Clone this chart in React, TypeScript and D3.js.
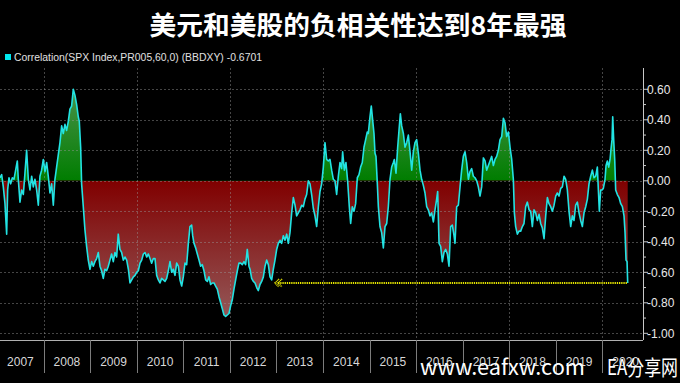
import React from 'react';
import * as d3 from 'd3';

// [decimal year, correlation]
const series: [number, number][] = [
  [2007.062,0.02],[2007.098,0.04],[2007.133,-0.04],[2007.169,-0.15],[2007.205,-0.35],[2007.226,-0.06],[2007.255,0.02],[2007.291,-0.02],[2007.327,0.02],[2007.362,0.01],
  [2007.398,0.07],[2007.434,0.13],[2007.455,0.01],[2007.491,-0.14],[2007.527,-0.06],[2007.563,-0.09],[2007.598,0.05],[2007.634,0.20],[2007.670,0.01],[2007.706,-0.06],
  [2007.742,0.03],[2007.777,-0.04],[2007.813,0.01],[2007.849,-0.06],[2007.885,-0.16],[2007.920,0.03],[2007.956,0.07],[2007.992,0.14],[2008.028,0.06],[2008.064,0.12],
  [2008.099,0.03],[2008.135,-0.08],[2008.171,-0.02],[2008.207,-0.16],[2008.242,0.01],[2008.278,0.09],[2008.314,0.17],[2008.350,0.25],[2008.386,0.36],[2008.421,0.31],
  [2008.457,0.37],[2008.493,0.33],[2008.529,0.39],[2008.564,0.47],[2008.600,0.49],[2008.636,0.60],[2008.672,0.56],[2008.708,0.50],[2008.743,0.42],[2008.765,0.39],
  [2008.794,0.22],[2008.815,-0.02],[2008.851,-0.17],[2008.886,-0.32],[2008.922,-0.43],[2008.958,-0.52],[2008.994,-0.58],[2009.030,-0.53],[2009.066,-0.56],[2009.101,-0.53],
  [2009.137,-0.51],[2009.173,-0.47],[2009.209,-0.56],[2009.244,-0.59],[2009.280,-0.64],[2009.316,-0.58],[2009.352,-0.59],[2009.388,-0.56],[2009.423,-0.52],[2009.459,-0.48],
  [2009.495,-0.53],[2009.531,-0.47],[2009.567,-0.50],[2009.602,-0.35],[2009.638,-0.45],[2009.674,-0.47],[2009.710,-0.52],
  [2009.747,-0.50],[2009.783,-0.52],[2009.819,-0.58],[2009.854,-0.67],[2009.890,-0.65],[2009.926,-0.63],[2009.962,-0.62],[2009.997,-0.60],[2010.033,-0.59],[2010.069,-0.54],
  [2010.105,-0.52],[2010.141,-0.48],[2010.176,-0.47],[2010.212,-0.50],[2010.248,-0.48],[2010.284,-0.51],[2010.319,-0.54],[2010.355,-0.51],[2010.391,-0.51],[2010.427,-0.62],
  [2010.463,-0.65],[2010.498,-0.67],[2010.534,-0.64],[2010.570,-0.65],[2010.606,-0.66],[2010.642,-0.64],[2010.677,-0.59],[2010.713,-0.53],[2010.749,-0.60],[2010.785,-0.58],
  [2010.820,-0.62],[2010.856,-0.54],[2010.892,-0.56],[2010.928,-0.65],[2010.964,-0.69],[2010.999,-0.63],[2011.035,-0.54],[2011.071,-0.55],[2011.107,-0.41],[2011.142,-0.30],
  [2011.178,-0.29],[2011.200,-0.36],[2011.228,-0.41],[2011.264,-0.44],[2011.300,-0.48],[2011.336,-0.52],[2011.371,-0.56],[2011.407,-0.55],[2011.443,-0.59],[2011.479,-0.65],
  [2011.515,-0.66],[2011.550,-0.63],[2011.586,-0.68],[2011.622,-0.67],[2011.658,-0.67],[2011.693,-0.69],[2011.729,-0.71],[2011.765,-0.76],[2011.801,-0.80],[2011.837,-0.84],
  [2011.872,-0.88],[2011.908,-0.89],[2011.944,-0.88],[2011.980,-0.87],[2012.015,-0.82],[2012.051,-0.78],[2012.087,-0.71],[2012.123,-0.65],[2012.159,-0.59],[2012.194,-0.54],
  [2012.230,-0.54],[2012.266,-0.55],[2012.302,-0.53],[2012.337,-0.55],[2012.373,-0.45],[2012.409,-0.56],
  [2012.432,-0.58],[2012.467,-0.64],[2012.503,-0.66],[2012.539,-0.67],[2012.575,-0.70],[2012.610,-0.72],[2012.646,-0.68],[2012.682,-0.66],[2012.718,-0.63],[2012.754,-0.56],
  [2012.789,-0.52],[2012.825,-0.55],[2012.861,-0.63],[2012.897,-0.65],[2012.932,-0.58],[2012.968,-0.52],[2013.004,-0.45],[2013.040,-0.41],[2013.076,-0.39],[2013.111,-0.41],
  [2013.147,-0.36],[2013.183,-0.39],[2013.219,-0.35],[2013.254,-0.41],[2013.290,-0.34],[2013.326,-0.21],[2013.362,-0.11],[2013.398,-0.16],[2013.433,-0.23],[2013.469,-0.21],
  [2013.505,-0.19],[2013.541,-0.16],[2013.576,-0.17],[2013.612,-0.12],[2013.648,-0.09],[2013.684,0.00],[2013.720,-0.02],[2013.755,-0.09],[2013.791,-0.18],[2013.827,-0.23],
  [2013.863,-0.30],[2013.899,-0.17],[2013.934,-0.07],[2013.970,-0.02],[2014.006,0.09],[2014.042,0.25],[2014.077,0.14],[2014.113,0.13],[2014.149,0.14],[2014.185,0.07],
  [2014.221,0.01],[2014.256,0.00],[2014.292,-0.09],[2014.328,0.03],[2014.364,0.12],[2014.399,0.08],[2014.421,0.19],[2014.457,0.07],[2014.492,0.12],[2014.528,0.00],
  [2014.564,-0.17],[2014.593,-0.28],[2014.628,-0.17],[2014.664,-0.20],[2014.700,-0.15],[2014.736,0.02],[2014.772,0.04],[2014.807,0.09],[2014.843,0.12],[2014.879,0.22],
  [2014.915,0.27],[2014.950,0.32],[2014.972,0.31],[2015.008,0.42],[2015.036,0.49],[2015.065,0.40],[2015.094,0.31],
  [2015.116,0.18],[2015.137,0.16],[2015.166,-0.02],[2015.188,-0.17],[2015.223,-0.30],[2015.259,-0.34],[2015.295,-0.44],[2015.331,-0.30],[2015.367,-0.28],[2015.402,-0.17],
  [2015.438,0.01],[2015.474,0.09],[2015.510,0.12],[2015.531,0.14],[2015.567,0.05],[2015.603,0.22],[2015.631,0.33],[2015.660,0.44],[2015.689,0.36],[2015.725,0.31],
  [2015.760,0.22],[2015.796,0.25],[2015.832,0.30],[2015.868,0.19],[2015.904,0.07],[2015.939,0.19],[2015.975,0.25],[2016.011,0.27],[2016.047,0.18],[2016.083,0.07],
  [2016.118,0.01],[2016.154,-0.03],[2016.190,-0.08],[2016.226,-0.17],[2016.261,-0.19],[2016.297,-0.23],[2016.333,-0.21],[2016.369,-0.27],[2016.405,-0.19],[2016.440,-0.12],
  [2016.462,-0.07],[2016.491,-0.41],[2016.526,-0.43],[2016.562,-0.53],[2016.598,-0.47],[2016.634,-0.45],[2016.670,-0.48],[2016.705,-0.56],[2016.741,-0.30],[2016.777,-0.29],
  [2016.813,-0.36],[2016.834,-0.41],[2016.870,-0.17],[2016.906,-0.16],[2016.942,-0.04],[2016.977,0.07],[2017.013,0.16],[2017.049,0.19],[2017.085,0.12],[2017.121,0.01],
  [2017.156,0.06],[2017.192,0.08],[2017.228,0.03],[2017.264,0.02],[2017.300,0.00],[2017.335,-0.04],[2017.371,-0.10],[2017.407,-0.04],[2017.443,0.15],[2017.479,0.13],
  [2017.514,0.07],[2017.550,0.10],[2017.586,0.13],[2017.622,0.16],[2017.658,0.10],[2017.693,0.14],[2017.729,0.16],[2017.765,0.20],
  [2017.801,0.27],[2017.837,0.29],[2017.873,0.41],[2017.908,0.38],[2017.944,0.29],[2017.980,0.32],[2018.016,0.22],[2018.052,0.14],[2018.087,0.01],[2018.109,-0.21],
  [2018.137,-0.30],[2018.173,-0.35],[2018.209,-0.33],[2018.245,-0.33],[2018.281,-0.30],[2018.316,-0.28],[2018.352,-0.17],[2018.388,-0.14],[2018.424,-0.19],[2018.460,-0.20],
  [2018.495,-0.30],[2018.531,-0.19],[2018.567,-0.21],[2018.603,-0.26],[2018.639,-0.22],[2018.674,-0.28],[2018.710,-0.31],[2018.746,-0.38],[2018.782,-0.23],[2018.818,-0.11],
  [2018.853,-0.15],[2018.889,-0.17],[2018.925,-0.20],[2018.961,-0.16],[2018.997,-0.10],[2019.032,-0.08],[2019.068,-0.10],[2019.104,-0.05],[2019.140,-0.04],[2019.176,0.03],
  [2019.211,0.01],[2019.247,-0.06],[2019.283,-0.20],[2019.319,-0.30],[2019.354,-0.23],[2019.390,-0.26],[2019.426,-0.16],[2019.462,-0.14],[2019.498,-0.21],[2019.533,-0.26],
  [2019.569,-0.30],[2019.605,-0.21],[2019.641,-0.17],[2019.677,-0.12],[2019.712,-0.02],[2019.748,0.03],[2019.784,0.07],[2019.820,0.02],[2019.856,0.03],[2019.891,0.09],
  [2019.913,-0.06],[2019.934,-0.20],[2019.963,-0.06],[2019.992,-0.06],[2020.020,-0.05],[2020.056,0.01],[2020.078,0.10],[2020.106,0.13],[2020.135,0.09],[2020.164,0.14],
  [2020.185,0.21],[2020.207,0.27],[2020.221,0.42],[2020.242,0.27],[2020.264,0.14],[2020.285,-0.06],[2020.321,-0.09],[2020.357,-0.11],[2020.393,-0.15],[2020.429,-0.17],
  [2020.464,-0.23],[2020.486,-0.34],[2020.507,-0.52],[2020.529,-0.53],[2020.543,-0.6701],
];

const yTicks = [0.6, 0.4, 0.2, 0, -0.2, -0.4, -0.6, -0.8, -1.0];
const yMinorTicks = [0.5, 0.3, 0.1, -0.1, -0.3, -0.5, -0.7, -0.9];
const yearLabels = [2007, 2008, 2009, 2010, 2011, 2012, 2013, 2014, 2015, 2016, 2017, 2018, 2019, 2020];
const yearTicks = [2008, 2009, 2010, 2011, 2012, 2013, 2014, 2015, 2016, 2017, 2018, 2019, 2020];
const gridYears = [2008, 2010, 2012, 2014, 2016, 2018, 2020];
const titleText = '美元和美股的负相关性达到8年最强';
const legendText = 'Correlation(SPX Index,PR005,60,0) (BBDXY) -0.6701';
const lastValue = -0.6701;
const annotationStart = 2012.947;
const watermarkUrl = 'www.eafxw.com';
const watermarkName = 'EA分享网';

const W = 680;
const H = 383;
const PLOT_LEFT = 0;
const PLOT_RIGHT = 643;
const PLOT_TOP = 68;
const PLOT_BOTTOM = 340;

export default function App() {
  const x = d3
    .scaleLinear()
    .domain([series[0][0], series[series.length - 1][0]])
    .range([PLOT_LEFT, 627.7]);
  const y = d3.scaleLinear().domain([-1, 0.6]).range([333.3, 89.3]);
  const y0 = y(0);

  const area = d3
    .area<[number, number]>()
    .x((d) => x(d[0]))
    .y0(y0)
    .y1((d) => y(d[1]));
  const line = d3
    .line<[number, number]>()
    .x((d) => x(d[0]))
    .y((d) => y(d[1]));

  const fmt = d3
    .formatLocale({ decimal: '.', thousands: ',', grouping: [3], currency: ['', ''], minus: '-' })
    .format('.2f');

  const axisFont = "'Liberation Sans', Arial, sans-serif";
  const cjkFont = "'Noto Sans CJK SC', 'Noto Sans', sans-serif";

  const ax0 = x(annotationStart);
  const ax1 = x(series[series.length - 1][0]);
  const ay = y(lastValue);

  return (
    <>
      <style>{`body{margin:0;background:#000;}`}</style>
      <svg width={W} height={H} style={{ display: 'block', background: '#000' }}>
        <defs>
          <linearGradient id="redGrad" gradientUnits="userSpaceOnUse" x1={0} x2={0} y1={y0} y2={y(-1)}>
            <stop offset="0%" stopColor="#800000" />
            <stop offset="100%" stopColor="#966262" />
          </linearGradient>
          <linearGradient id="greenGrad" gradientUnits="userSpaceOnUse" x1={0} x2={0} y1={y0} y2={y(0.6)}>
            <stop offset="0%" stopColor="#007d00" />
            <stop offset="100%" stopColor="#4a914a" />
          </linearGradient>
          <clipPath id="clipAbove">
            <rect x={PLOT_LEFT} y={PLOT_TOP} width={PLOT_RIGHT - PLOT_LEFT} height={y0 - PLOT_TOP} />
          </clipPath>
          <clipPath id="clipBelow">
            <rect x={PLOT_LEFT} y={y0} width={PLOT_RIGHT - PLOT_LEFT} height={PLOT_BOTTOM - y0} />
          </clipPath>
        </defs>
        <rect x={0} y={0} width={W} height={H} fill="#000" />

        {/* fills */}
        <path d={area(series) || ''} fill="url(#greenGrad)" clipPath="url(#clipAbove)" />
        <path d={area(series) || ''} fill="url(#redGrad)" clipPath="url(#clipBelow)" />

        {/* grid */}
        <g stroke="#9a9a9a" strokeOpacity={0.45} strokeWidth={1} strokeDasharray="2,2">
          {yTicks.map((t) => (
            <line key={'gy' + t} x1={PLOT_LEFT} x2={PLOT_RIGHT} y1={Math.round(y(t)) + 0.5} y2={Math.round(y(t)) + 0.5} />
          ))}
          {gridYears.map((yr) => (
            <line key={'gx' + yr} x1={Math.round(x(yr)) + 0.5} x2={Math.round(x(yr)) + 0.5} y1={PLOT_TOP} y2={PLOT_BOTTOM} />
          ))}
        </g>

        {/* series line */}
        <path d={line(series) || ''} fill="none" stroke="#22e3e3" strokeWidth={1.6} strokeLinejoin="round" />

        {/* annotation */}
        <line x1={ax0 + 4} x2={ax1} y1={ay} y2={ay} stroke="#e6e600" strokeWidth={2} strokeDasharray="1.3,0.9" />
        <path
          d={`M${ax0 + 5},${ay - 4} L${ax0 + 1},${ay} L${ax0 + 5},${ay + 4} M${ax0 + 8},${ay - 4} L${ax0 + 4},${ay} L${ax0 + 8},${ay + 4}`}
          fill="none"
          stroke="#e6e600"
          strokeWidth={1.5}
          strokeDasharray="1,0.6"
        />

        {/* right axis */}
        <line x1={PLOT_RIGHT + 0.5} x2={PLOT_RIGHT + 0.5} y1={PLOT_TOP} y2={PLOT_BOTTOM} stroke="#c8c8c8" strokeWidth={1} />
        {yTicks.map((t) => (
          <g key={'yt' + t}>
            <line x1={PLOT_RIGHT} x2={PLOT_RIGHT + 5} y1={y(t)} y2={y(t)} stroke="#c8c8c8" strokeWidth={1} />
            <text
              x={PLOT_RIGHT + 4}
              y={y(t)}
              dy="0.35em"
              fill="#e8e8e8"
              fontSize={12}
              fontFamily={axisFont}
            >
              {fmt(t)}
            </text>
          </g>
        ))}
        {yMinorTicks.map((t) => (
          <line key={'ym' + t} x1={PLOT_RIGHT} x2={PLOT_RIGHT + 3} y1={y(t)} y2={y(t)} stroke="#c8c8c8" strokeWidth={1} />
        ))}

        {/* bottom axis */}
        <line x1={PLOT_LEFT} x2={PLOT_RIGHT} y1={PLOT_BOTTOM + 0.5} y2={PLOT_BOTTOM + 0.5} stroke="#b0b0b0" strokeWidth={1} />
        {yearTicks.map((yr) => (
          <line
            key={'xt' + yr}
            x1={Math.round(x(yr)) + 0.5}
            x2={Math.round(x(yr)) + 0.5}
            y1={PLOT_BOTTOM}
            y2={373}
            stroke="#7c7c7c"
            strokeWidth={1}
          />
        ))}
        {yearLabels.map((yr) => (
          <text
            key={'xl' + yr}
            x={x(yr + 0.5)}
            y={366}
            textAnchor="middle"
            fill="#d8d8d8"
            fontSize={12}
            fontFamily={axisFont}
          >
            {yr}
          </text>
        ))}

        {/* legend */}
        <rect x={5} y={54} width={6} height={6} fill="#00e8ee" />
        <text x={14} y={61} fill="#e0e0e0" fontSize={10} fontFamily={axisFont} textLength={248} lengthAdjust="spacingAndGlyphs">
          {legendText}
        </text>

        {/* title */}
        <text
          x={358}
          y={35}
          textAnchor="middle"
          fill="#ffffff"
          fontSize={26}
          fontWeight={700}
          fontFamily={cjkFont}
          textLength={417}
          lengthAdjust="spacingAndGlyphs"
        >
          {titleText}
        </text>

        {/* watermark */}
        <text x={420} y={375} fill="#ffffff" fontSize={21} fontFamily={cjkFont} textLength={165} lengthAdjust="spacingAndGlyphs">
          {watermarkUrl}
        </text>
        <text x={607} y={375} fill="#ffffff" fontSize={21} fontFamily={cjkFont} textLength={71} lengthAdjust="spacingAndGlyphs">
          {watermarkName}
        </text>
      </svg>
    </>
  );
}
